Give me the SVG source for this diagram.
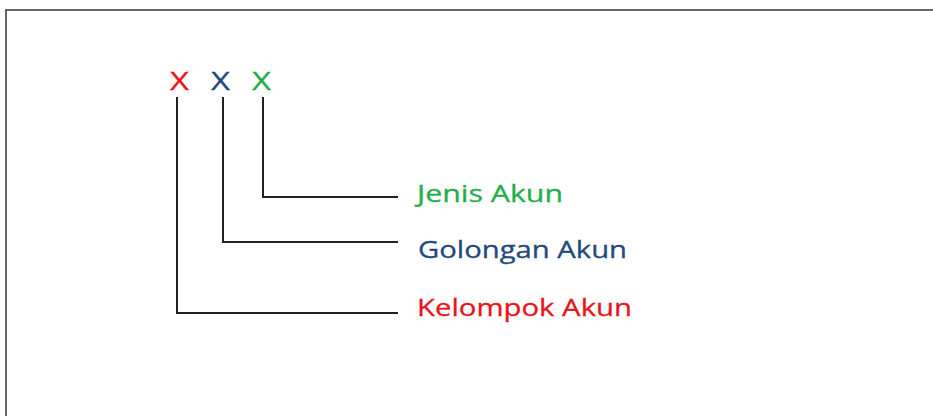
<svg xmlns="http://www.w3.org/2000/svg" width="933" height="416" viewBox="0 0 933 416">
  <style>
    .frame { fill: none; stroke: #666; stroke-width: 2; }
    .link { fill: none; stroke: #222; stroke-width: 2; }
    .lbl { font-family: "Open Sans", "Noto Sans", sans-serif; font-size: 24px; stroke-width: 0.3; }
    .mark { font-size: 25px; }
    .red { fill: #e8141c; stroke: #e8141c; }
    .blue { fill: #1f497d; stroke: #1f497d; }
    .green { fill: #1fae4b; stroke: #1fae4b; }
  </style>
  <rect width="933" height="416" fill="#fff"/>
  <rect class="frame" x="6" y="10" width="940" height="420"/>

  <g id="digit-kelompok">
    <text class="lbl mark red" x="170" y="90" textLength="19" lengthAdjust="spacingAndGlyphs">X</text>
  </g>
  <g id="digit-golongan">
    <text class="lbl mark blue" x="211" y="90" textLength="19" lengthAdjust="spacingAndGlyphs">X</text>
  </g>
  <g id="digit-jenis">
    <text class="lbl mark green" x="252" y="90" textLength="19" lengthAdjust="spacingAndGlyphs">X</text>
  </g>

  <g id="label-jenis">
    <text class="lbl green" x="417" y="202" textLength="146" lengthAdjust="spacingAndGlyphs">Jenis Akun</text>
  </g>
  <g id="label-golongan">
    <text class="lbl blue" x="418" y="258" textLength="209" lengthAdjust="spacingAndGlyphs">Golongan Akun</text>
  </g>
  <g id="label-kelompok">
    <text class="lbl red" x="417" y="316" textLength="215" lengthAdjust="spacingAndGlyphs">Kelompok Akun</text>
  </g>

  <g id="connectors">
    <polyline class="link" points="177,97 177,313 398,313"/>
    <polyline class="link" points="223,97 223,242 398,242"/>
    <polyline class="link" points="263,97 263,197 398,197"/>
  </g>
</svg>
